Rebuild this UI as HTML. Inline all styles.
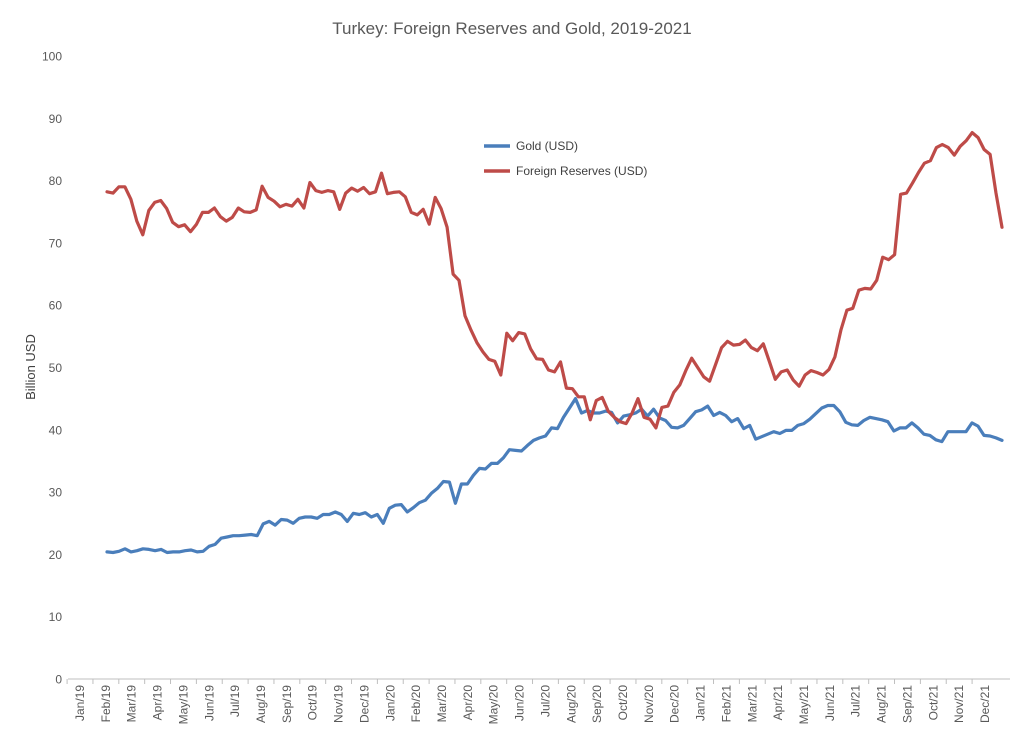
<!DOCTYPE html>
<html><head><meta charset="utf-8"><style>
html,body{margin:0;padding:0;background:#fff;}
svg{display:block;font-family:"Liberation Sans",sans-serif;}
</style></head><body>
<svg id="chart" width="1024" height="743" viewBox="0 0 1024 743">
<text x="512" y="34" text-anchor="middle" font-size="17" fill="#595959">Turkey: Foreign Reserves and Gold, 2019-2021</text>
<text transform="translate(35,367) rotate(-90)" text-anchor="middle" font-size="13" fill="#404040">Billion USD</text>
<g id="yaxis"></g>
<g id="xaxis"></g>
<g id="series"></g>
<g>
<line x1="484" y1="146" x2="510" y2="146" stroke="#4a7ebb" stroke-width="3.5"/>
<text x="516" y="150" font-size="12" fill="#404040">Gold (USD)</text>
<line x1="484" y1="171" x2="510" y2="171" stroke="#be4b48" stroke-width="3.5"/>
<text x="516" y="175" font-size="12" fill="#404040">Foreign Reserves (USD)</text>
</g>
</svg>
<script>
const monthLabels=["Jan/19","Feb/19","Mar/19","Apr/19","May/19","Jun/19","Jul/19","Aug/19","Sep/19","Oct/19","Nov/19","Dec/19","Jan/20","Feb/20","Mar/20","Apr/20","May/20","Jun/20","Jul/20","Aug/20","Sep/20","Oct/20","Nov/20","Dec/20","Jan/21","Feb/21","Mar/21","Apr/21","May/21","Jun/21","Jul/21","Aug/21","Sep/21","Oct/21","Nov/21","Dec/21"];
const yTicks=[0,10,20,30,40,50,60,70,80,90,100];
const reserves=[78.2,78,79,79,77,73.5,71.3,75.2,76.5,76.8,75.5,73.3,72.6,72.9,71.8,73,74.9,74.9,75.6,74.2,73.5,74.1,75.6,75,74.9,75.3,79.1,77.3,76.7,75.8,76.2,75.9,77,75.6,79.7,78.4,78.1,78.4,78.2,75.4,78,78.8,78.3,78.9,77.9,78.2,81.2,77.9,78.1,78.2,77.4,74.9,74.5,75.4,73,77.3,75.5,72.5,65,64,58.3,56,54,52.5,51.3,51,48.8,55.5,54.3,55.6,55.4,53,51.4,51.3,49.6,49.3,50.9,46.7,46.6,45.3,45.3,41.6,44.7,45.2,43,42,41.3,41,42.7,45,42,41.7,40.3,43.6,43.8,46,47.2,49.5,51.5,50,48.5,47.8,50.5,53.2,54.2,53.6,53.7,54.4,53.2,52.7,53.8,51,48.1,49.3,49.6,48,47,48.8,49.5,49.2,48.8,49.7,51.7,56,59.2,59.5,62.4,62.7,62.6,64,67.7,67.3,68.1,77.8,78,79.6,81.3,82.8,83.2,85.3,85.8,85.3,84.1,85.5,86.4,87.7,86.9,85,84.2,78,72.5];
const gold=[20.4,20.3,20.5,20.9,20.4,20.6,20.9,20.8,20.6,20.8,20.3,20.4,20.4,20.6,20.7,20.4,20.5,21.3,21.6,22.6,22.8,23,23,23.1,23.2,23,24.9,25.3,24.7,25.6,25.5,25,25.8,26,26,25.8,26.4,26.4,26.8,26.4,25.3,26.6,26.4,26.7,26,26.4,25,27.4,27.9,28,26.8,27.5,28.3,28.7,29.8,30.6,31.7,31.6,28.2,31.3,31.3,32.7,33.8,33.7,34.6,34.6,35.5,36.8,36.7,36.6,37.5,38.3,38.7,39,40.3,40.2,42,43.5,45,42.7,43.1,42.7,42.7,43,42.8,41.1,42.2,42.4,42.7,43.3,42.2,43.3,41.9,41.5,40.4,40.3,40.7,41.8,42.9,43.2,43.8,42.3,42.8,42.3,41.3,41.8,40.2,40.7,38.5,38.9,39.3,39.7,39.4,39.9,39.9,40.7,41,41.7,42.6,43.5,43.9,43.9,42.9,41.2,40.8,40.7,41.5,42,41.8,41.6,41.3,39.8,40.3,40.3,41.1,40.3,39.3,39.1,38.4,38.1,39.7,39.7,39.7,39.7,41.1,40.6,39.1,39,38.7,38.3];
const NS="http://www.w3.org/2000/svg";
const Y0=679,Y100=56,XL=68,XR=1010,XS=107,XE=1002;
function y(v){return Y0-(v/100)*(Y0-Y100);}
function mx(i){return 80+i*(985-80)/35;}
function sx(i,n){return XS+i*(XE-XS)/(n-1);}
function mk(t,p,parent){const e=document.createElementNS(NS,t);for(const k in p)e.setAttribute(k,p[k]);parent.appendChild(e);return e;}
const ya=document.getElementById('yaxis'),xa=document.getElementById('xaxis'),sg=document.getElementById('series');
yTicks.forEach(v=>{
 const t=mk('text',{x:62,y:y(v)+4.5,'text-anchor':'end','font-size':12,fill:'#595959'},ya);
 
 
 t.textContent=v;
});
const ax=mk('line',{x1:XL,y1:Y0,x2:XR,y2:Y0,stroke:'#bfbfbf','stroke-width':1},xa);


monthLabels.forEach((m,i)=>{
 const x=mx(i);
 const tk=mk('line',{x1:x-12.9,y1:Y0,x2:x-12.9,y2:Y0+5,stroke:'#bfbfbf'},xa);
 
 
 const t=mk('text',{transform:`translate(${x+4},${Y0+6}) rotate(-90)`,'text-anchor':'end','font-size':12,fill:'#595959'},xa);
 
 
 t.textContent=m;
});
function line(arr,color,name){
 const pts=arr.map((v,i)=>sx(i,arr.length).toFixed(1)+','+y(v).toFixed(1)).join(' ');
 const p=mk('polyline',{points:pts,fill:'none',stroke:color,'stroke-width':3.2,'stroke-linejoin':'round','stroke-linecap':'round'},sg);
 
 
}
line(gold,'#4a7ebb','gold-line');
line(reserves,'#be4b48','foreign-reserves-line');
</script>
</body></html>
